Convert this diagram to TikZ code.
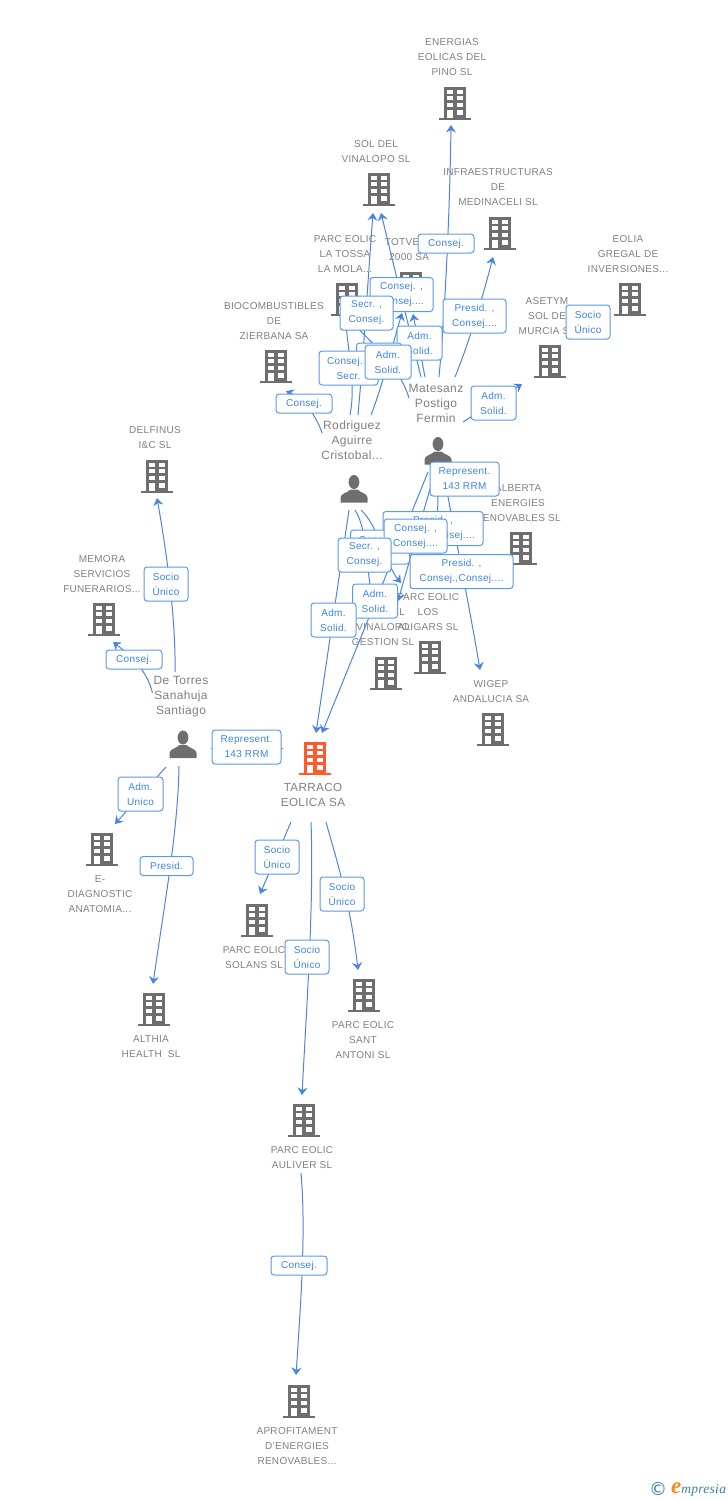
\documentclass[tikz,border=0pt]{standalone}
\usepackage{fontspec}
\setmainfont[LetterSpace=3]{Liberation Sans}
\newfontfamily\logofont[LetterSpace=2]{Liberation Serif}
\usetikzlibrary{calc}
\usetikzlibrary{arrows.meta}
\definecolor{iconGray}{HTML}{6E6E6E}
\definecolor{iconOrange}{HTML}{FF5A2E}
\definecolor{nameGray}{HTML}{808080}
\definecolor{linkBlue}{HTML}{4A86DF}
\definecolor{boxBlue}{HTML}{5A9AEA}
\definecolor{roleBlue}{HTML}{3F83E6}
\definecolor{logoTeal}{HTML}{3B7F9B}
\definecolor{logoOrange}{HTML}{F58A1F}
\tikzset{building/.style={minimum width=32pt,minimum height=33pt,inner sep=0pt,
	path picture={
		\begin{scope}[shift={(path picture bounding box.center)}]
			\fill [#1] (-11.3pt,-14pt) rectangle (11.3pt,16.5pt);
			\fill [#1] (-15.8pt,-16.5pt) rectangle (15.8pt,-14pt);
			\foreach \wy in {9.2pt,3.2pt,-3.2pt} {
				\fill [white] (-7.6pt,\wy) rectangle (-2.2pt,\wy+4.2pt);
				\fill [white] (2.2pt,\wy) rectangle (7.6pt,\wy+4.2pt);
			}
			\fill [white] (-7.6pt,-14pt) rectangle (-2.2pt,-6pt);
			\fill [white] (2.2pt,-11pt) rectangle (7.6pt,-6pt);
		\end{scope}
	}},building/.default=iconGray}
\tikzset{person/.style={minimum width=28pt,minimum height=28pt,inner sep=0pt,
	path picture={
		\begin{scope}[shift={(path picture bounding box.center)}]
			\fill [iconGray] (0pt,6.5pt) ellipse (5.4pt and 7pt);
			\fill [iconGray] (-13.5pt,-14pt) -- (-13.5pt,-9pt)
				.. controls (-13.5pt,-5pt) and (-6pt,-4pt) .. (-3.5pt,-1pt)
				-- (3.5pt,-1pt)
				.. controls (6pt,-4pt) and (13.5pt,-5pt) .. (13.5pt,-9pt)
				-- (13.5pt,-14pt) -- cycle;
		\end{scope}
	}}}
\tikzset{firm/.style={align=center,inner sep=0pt,text=nameGray,
	font=\fontsize{10}{15}\selectfont}}
\tikzset{firmbig/.style={firm,font=\fontsize{11.7}{15}\selectfont}}
\tikzset{who/.style={firm,font=\fontsize{12}{15}\selectfont}}
\tikzset{link/.style={draw=linkBlue,line width=1pt,
	-{Stealth[length=7.5pt,width=10pt,inset=2.5pt]}}}
\tikzset{role/.style={draw=boxBlue,line width=1pt,rounded corners=3pt,fill=white,
	text=roleBlue,align=center,inner sep=0pt,minimum height=19pt,minimum width=#1pt,
	font=\fontsize{10}{15}\selectfont}}
\tikzset{roletwo/.style={role=#1,minimum height=34pt}}
\begin{document}
\begin{tikzpicture}[x=1pt,y=-1pt]
	\useasboundingbox (0,0) rectangle (728,1500);

	% Edificios
	\node [building] (energias) at (455,103.5) {};
	\node [building] (sol) at (379,189.5) {};
	\node [building] (infra) at (500,233.5) {};
	\node [building] (eolia) at (630,299.5) {};
	\node [building] (tossa) at (347,299.5) {};
	\node [building] (totvent) at (411,288.5) {};
	\node [building] (bio) at (276,366.5) {};
	\node [building] (asetym) at (550,361.5) {};
	\node [building] (delfinus) at (157,476.5) {};
	\node [building] (memora) at (104,619.5) {};
	\node [building] (alberta) at (521,548.5) {};
	\node [building] (aligars) at (430,657.5) {};
	\node [building] (vinalopo) at (386,673.5) {};
	\node [building] (wigep) at (493,729.5) {};
	\node [building=iconOrange] (tarraco) at (315,758.5) {};
	\node [building] (ediag) at (102,849.5) {};
	\node [building] (solans) at (257,920.5) {};
	\node [building] (antoni) at (364,995.5) {};
	\node [building] (althia) at (154,1009.5) {};
	\node [building] (auliver) at (304,1120.5) {};
	\node [building] (aprof) at (299,1401.5) {};

	% Personas
	\node [person] (rodriguez) at (354,488.5) {};
	\node [person] (matesanz) at (438,450.5) {};
	\node [person] (torres) at (183,744) {};

	% Nombres
	\node [firm] (energiasName) at (452,57) {ENERGIAS\\EOLICAS DEL\\PINO SL};
	\node [firm] (solName) at (376,151.5) {SOL DEL\\VINALOPO SL};
	\node [firm] (infraName) at (498,187) {INFRAESTRUCTURAS\\DE\\MEDINACELI SL};
	\node [firm] (eoliaName) at (628,254) {EOLIA\\GREGAL DE\\INVERSIONES...};
	\node [firm] (tossaName) at (345,254) {PARC EOLIC\\LA TOSSA\\LA MOLA...};
	\node [firm] (totventName) at (409,249.5) {TOTVENT\\2000 SA};
	\node [firm] (bioName) at (274,321) {BIOCOMBUSTIBLES\\DE\\ZIERBANA SA};
	\node [firm] (asetymName) at (547,316) {ASETYM\\SOL DE\\MURCIA SL};
	\node [firm] (delfinusName) at (155,437.5) {DELFINUS\\I\&C SL};
	\node [firm] (memoraName) at (102,574) {MEMORA\\SERVICIOS\\FUNERARIOS...};
	\node [firm] (albertaName) at (518,503) {ALBERTA\\ENERGIES\\RENOVABLES SL};
	\node [firm] (aligarsName) at (428,612) {PARC EOLIC\\LOS\\ALIGARS SL};
	\node [firm] (vinalopoName) at (383,627) {SOL DEL\\VINALOPO\\GESTION SL};
	\node [firm] (wigepName) at (491,691.5) {WIGEP\\ANDALUCIA SA};
	\node [firmbig] (tarracoName) at (313,794.5) {TARRACO\\EOLICA SA};
	\node [firm] (ediagName) at (100,894) {E-\\DIAGNOSTIC\\ANATOMIA...};
	\node [firm] (solansName) at (254,957.5) {PARC EOLIC\\SOLANS SL};
	\node [firm] (antoniName) at (363,1040) {PARC EOLIC\\SANT\\ANTONI SL};
	\node [firm] (althiaName) at (151,1046.5) {ALTHIA\\HEALTH\ \ SL};
	\node [firm] (auliverName) at (302,1157.5) {PARC EOLIC\\AULIVER SL};
	\node [firm] (aprofName) at (297,1446) {APROFITAMENT\\D'ENERGIES\\RENOVABLES...};
	\node [who] (rodriguezName) at (352,440) {Rodriguez\\Aguirre\\Cristobal...};
	\node [who] (matesanzName) at (436,403) {Matesanz\\Postigo\\Fermin};
	\node [who] (torresName) at (181,697) {De Torres\\Sanahuja\\Santiago};

	% De Torres
	\draw [link] ($(torres)+(-8,-72)$) .. controls (176,625) and (168,560) .. ($(delfinus)+(0,21.5)$);
	\draw [link] ($(torres)+(-30.5,-51)$) .. controls (147,670) and (130,655) .. ($(memora)+(9,22.5)$);
	\draw [draw=linkBlue,line width=1pt] ($(torres)+(28,4)$) -- ($(tarraco)+(-32,-10.5)$);
	\draw [link] ($(torres)+(-17,23)$) -- ($(ediag)+(13,-25.5)$);
	\draw [link] ($(torres)+(-4,22)$) .. controls (178,830) and (165,900) .. ($(althia)+(-1,-25.5)$);

	% Tarraco
	\draw [link] ($(tarraco)+(-24,63.5)$) -- ($(solans)+(3,-26.5)$);
	\draw [link] ($(tarraco)+(-4,63.5)$) .. controls (314,900) and (307,1000) .. ($(auliver)+(-2,-25.5)$);
	\draw [link] ($(tarraco)+(11,63.5)$) .. controls (335,855) and (350,900) .. ($(antoni)+(-6,-25.5)$);

	% Auliver
	\draw [link] ($(auliver)+(-3,52.5)$) .. controls (306,1230) and (301,1300) .. ($(aprof)+(-3,-26.5)$);

	% Rodriguez hacia arriba
	\draw [link] ($(rodriguez)+(-32,-55.5)$) .. controls (318,420) and (306,400) .. ($(bio)+(10,24.5)$);
	\draw [link] ($(rodriguez)+(-4,-73.5)$) .. controls (356,385) and (348,350) .. ($(tossa)+(-1,23.5)$);
	\draw [link] ($(rodriguez)+(4,-73.5)$) .. controls (363,360) and (368,280) .. ($(sol)+(-6,23.5)$);
	\draw [link] ($(rodriguez)+(17,-73.5)$) .. controls (381,390) and (394,340) .. ($(totvent)+(-9,24.5)$);

	% Matesanz hacia arriba
	\draw [link] ($(matesanz)+(-17,-73.5)$) -- ($(sol)+(2,23.5)$);
	\draw [link] ($(matesanz)+(-13,-73.5)$) -- ($(totvent)+(2,25.5)$);
	\draw [link] ($(matesanz)+(1,-73.5)$) .. controls (446,300) and (450,200) .. ($(energias)+(-4,21.5)$);
	\draw [link] ($(matesanz)+(17,-73.5)$) .. controls (468,345) and (482,300) .. ($(infra)+(-7,23.5)$);
	\draw [link] ($(matesanz)+(-29,-52.5)$) .. controls (402,375) and (385,355) .. ($(tossa)+(5,23)$);
	\draw [link] ($(matesanz)+(25,-28.5)$) -- ($(asetym)+(-28,22.5)$);

	% Hacia abajo
	\draw [link] ($(matesanz)+(-10,21.5)$) -- ($(tarraco)+(7,-25.5)$);
	\draw [link] ($(matesanz)+(-7,35)$) -- ($(aligars)+(-32,-56.5)$);
	\draw [draw=linkBlue,line width=1pt] ($(matesanz)+(0,40)$) -- ($(matesanz)+(-1,105)$);
	\draw [link] ($(matesanz)+(6,25)$) .. controls (455,535) and (470,610) .. ($(wigep)+(-13,-59.5)$);
	\draw [link] ($(rodriguez)+(-5,21.5)$) -- ($(tarraco)+(1,-25.5)$);
	\draw [link] ($(rodriguez)+(1,21.5)$) .. controls (368,530) and (366,570) .. ($(vinalopo)+(-12,-65)$);
	\draw [link] ($(rodriguez)+(7,21.5)$) .. controls (378,525) and (386,565) .. ($(aligars)+(-29,-74.5)$);

	% Cargos
	\node [role=56] (r1) at (446,243.5) {Consej.};
	\node [roletwo=63] (r2) at (401.5,294.5) {Consej. ,\\Consej....};
	\node [roletwo=63] (r3) at (474.5,316) {Presid. ,\\Consej....};
	\node [roletwo=45] (r4) at (419.5,343) {Adm.\\Solid.};
	\node [roletwo=45] (r5) at (379,360) {Adm.\\Solid.};
	\node [roletwo=59] (r6) at (348.5,368) {Consej. ,\\Secr.};
	\node [roletwo=53] (r7) at (366.5,313) {Secr. ,\\Consej.};
	\node [roletwo=46] (r8) at (388,362) {Adm.\\Solid.};
	\node [role=56] (r9) at (304,403.5) {Consej.};
	\node [roletwo=45] (r10) at (493.5,403) {Adm.\\Solid.};
	\node [roletwo=44] (r11) at (588,322) {Socio\\Único};
	\node [roletwo=100] (r12) at (433,528.5) {Presid. ,\\Consej.,Consej....};
	\node [roletwo=59] (r13) at (380,547) {Consej. ,\\Secr.};
	\node [roletwo=63] (r14) at (415.5,536) {Consej. ,\\Consej....};
	\node [roletwo=53] (r15) at (364.5,555) {Secr. ,\\Consej.};
	\node [roletwo=103] (r16) at (461.5,571.5) {Presid. ,\\Consej.,Consej....};
	\node [roletwo=45] (r17) at (375,601) {Adm.\\Solid.};
	\node [roletwo=45] (r18) at (333.5,620) {Adm.\\Solid.};
	\node [roletwo=69] (r19) at (464.5,479) {Represent.\\143 RRM};
	\node [roletwo=44] (r20) at (166,584) {Socio\\Único};
	\node [role=56] (r21) at (134,659.5) {Consej.};
	\node [roletwo=69] (r22) at (246.5,747) {Represent.\\143 RRM};
	\node [roletwo=45] (r23) at (140.5,794) {Adm.\\Unico};
	\node [role=53] (r24) at (166.5,866) {Presid.};
	\node [roletwo=44] (r25) at (277,857) {Socio\\Único};
	\node [roletwo=44] (r26) at (342,894) {Socio\\Único};
	\node [roletwo=44] (r27) at (307,957) {Socio\\Único};
	\node [role=56] (r28) at (299,1265.5) {Consej.};

	% Marca
	\node [inner sep=0pt,text=logoTeal,font=\fontspec{DejaVu Sans}\fontsize{18}{18}\selectfont] (copyMark) at (658,1489) {©};
	\node [inner sep=0pt,anchor=west,text=logoTeal,font=\logofont\itshape\fontsize{13.5}{14}\selectfont] (empresiaMark) at (671,1489) {{\color{logoOrange}\bfseries\fontsize{23}{14}\selectfont e}mpresia};
\end{tikzpicture}
\end{document}
